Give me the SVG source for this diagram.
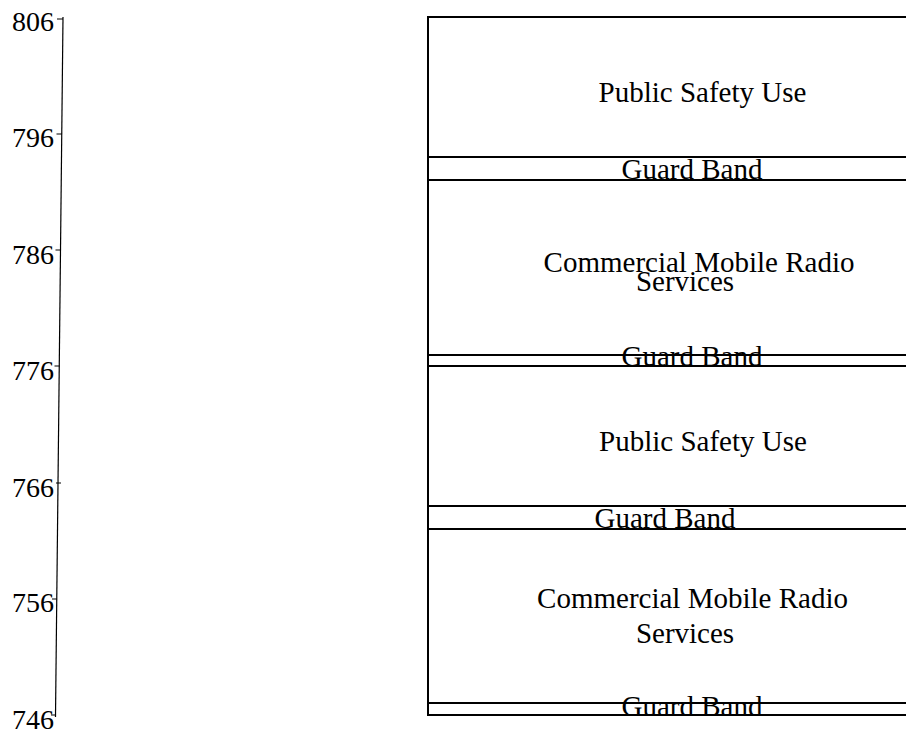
<svg xmlns="http://www.w3.org/2000/svg" width="906" height="735" viewBox="0 0 906 735">
<style>
.band{fill:#fff;stroke:#000;stroke-width:2}
.lbl{font-family:"Liberation Serif","Times New Roman",serif;font-size:29px;fill:#000;text-anchor:middle}
.ax{font-family:"Liberation Serif","Times New Roman",serif;font-size:28px;fill:#000;text-anchor:end}
.axl{stroke:#000;stroke-width:1.2;fill:none}
</style>
<rect width="906" height="735" fill="#fff"/>
<g id="axis">
<line class="axl" x1="63" y1="17" x2="55.5" y2="717"/>
<path class="axl" d="M57 19H63M56.5 134H61.7M55.5 250H60.5M54.5 366H59.3M56 483H61M52 599H56.8M51 715H55.5"/>
<text class="ax" x="54" y="31">806</text>
<text class="ax" x="54" y="147">796</text>
<text class="ax" x="54" y="264">786</text>
<text class="ax" x="54" y="380">776</text>
<text class="ax" x="54" y="497">766</text>
<text class="ax" x="54" y="612">756</text>
<text class="ax" x="54" y="729">746</text>
</g>
<g id="ps-upper"><rect class="band" x="428" y="17" width="560" height="140"/><text class="lbl" x="702.5" y="102">Public Safety Use</text></g>
<g id="gb-1"><rect class="band" x="428" y="157" width="560" height="23"/><text class="lbl" x="692" y="179">Guard Band</text></g>
<g id="cmrs-upper"><rect class="band" x="428" y="180" width="560" height="175"/><text class="lbl" x="699" y="272">Commercial Mobile Radio</text><text class="lbl" x="685" y="291">Services</text></g>
<g id="gb-2"><rect class="band" x="428" y="355" width="560" height="11"/><text class="lbl" x="692" y="366">Guard Band</text></g>
<g id="ps-lower"><rect class="band" x="428" y="366" width="560" height="140"/><text class="lbl" x="703" y="451">Public Safety Use</text></g>
<g id="gb-3"><rect class="band" x="428" y="506" width="560" height="23"/><text class="lbl" x="665" y="528">Guard Band</text></g>
<g id="cmrs-lower"><rect class="band" x="428" y="529" width="560" height="174"/><text class="lbl" x="692.5" y="608">Commercial Mobile Radio</text><text class="lbl" x="685" y="643">Services</text></g>
<g id="gb-4"><rect class="band" x="428" y="703" width="560" height="12"/><text class="lbl" x="692" y="716">Guard Band</text></g>
<g id="connectors"/>
</svg>
